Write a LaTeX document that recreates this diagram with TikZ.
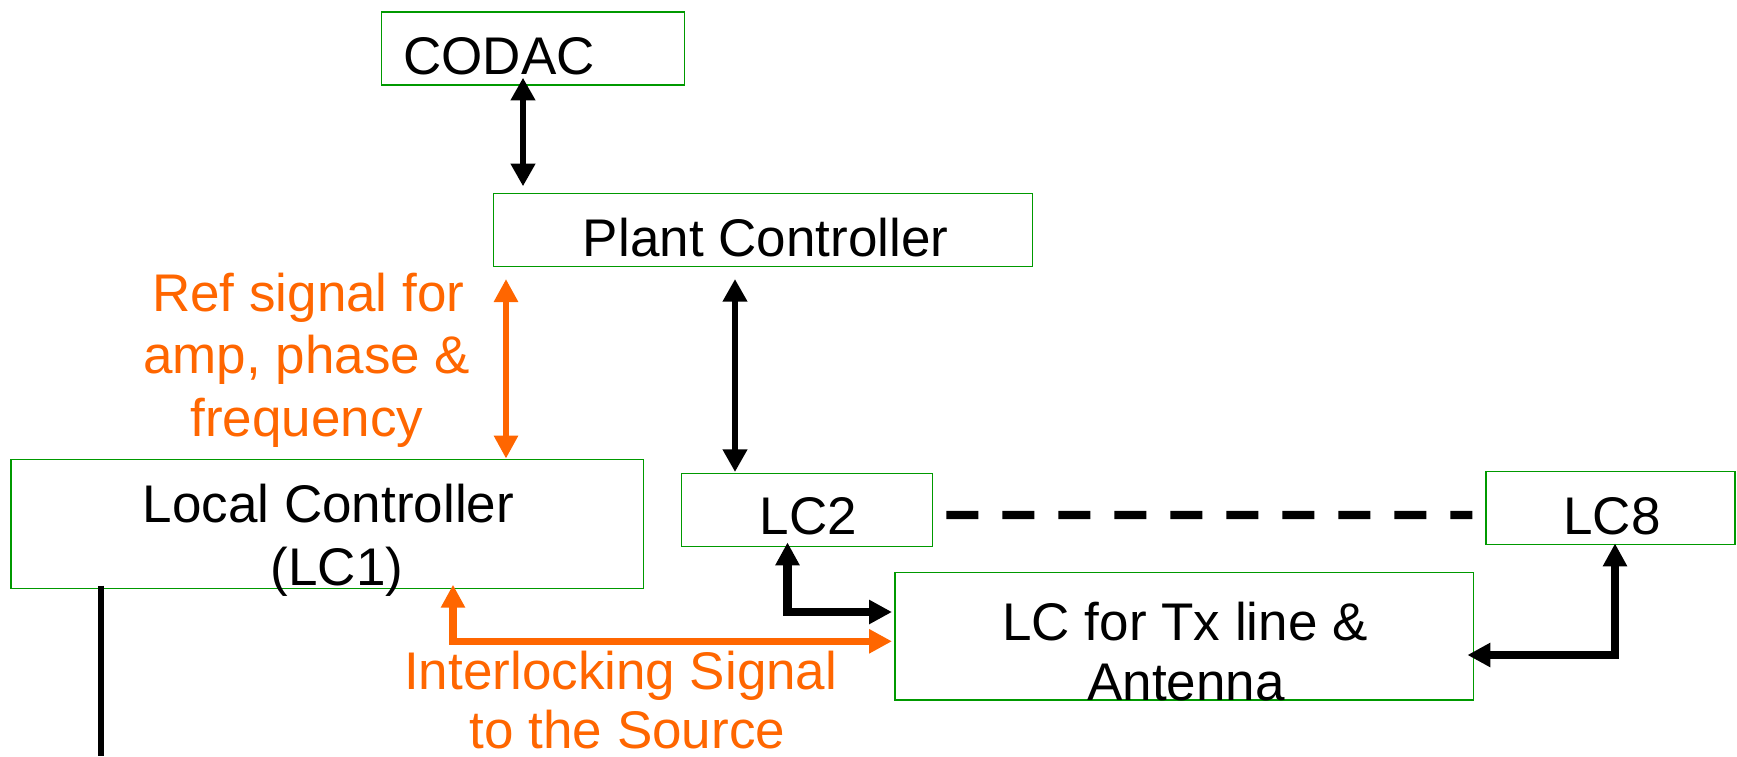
\documentclass[tikz,border=0pt]{standalone}
\usepackage{fontspec}
\setmainfont{Liberation Sans}
\usetikzlibrary{arrows.meta,calc}
\definecolor{boxgreen}{HTML}{009900}
\definecolor{sigorange}{HTML}{FF6600}
\begin{document}
\begin{tikzpicture}[x=0.5pt,y=-0.5pt,
  box/.style={draw=boxgreen,line width=0.7pt,inner sep=0pt,rectangle},
  lbl/.style={inner sep=0pt,font=\fontsize{26.5pt}{31.25pt}\selectfont,text=black},
  olbl/.style={lbl,text=sigorange},
  bidir/.style={line width=3.35pt,{Triangle[width=11.7pt,length=11.3pt]}-{Triangle[width=11.7pt,length=11.3pt]}},
  ellarrow/.style={line width=4.15pt,{Triangle[width=11.5pt,length=11.5pt]}-{Triangle[width=11.5pt,length=11.5pt]}},
  obidir/.style={draw=sigorange,line width=3.35pt,{Triangle[width=11.5pt,length=11.5pt]}-{Triangle[width=11.5pt,length=11.5pt]}},
  oell/.style={draw=sigorange,line width=3.75pt,{Triangle[width=11.5pt,length=11.5pt]}-{Triangle[width=11.5pt,length=11.5pt]}},
  dashlink/.style={line width=4.15pt,dash pattern=on 16pt off 12pt}
]
\useasboundingbox (0,0) rectangle (1737,756);

% boxes
\node[box,minimum width=151.3pt,minimum height=36.5pt] (codac) at (533,48.5) {};
\node[box,minimum width=269.6pt,minimum height=36.7pt] (plant) at (762.9,230) {};
\node[box,minimum width=316.15pt,minimum height=64.5pt] (lc1) at (327.15,523.8) {};
\node[box,minimum width=125.5pt,minimum height=36.7pt] (lc2) at (807.2,510) {};
\node[box,minimum width=124.5pt,minimum height=36.5pt] (lc8) at (1610.5,508.2) {};
\node[box,minimum width=289.15pt,minimum height=63.85pt] (lctx) at (1184.15,636.15) {};

% box texts
\node[lbl,anchor=base west] (tcodac) at ($(codac.center)+(-130,25.5)$) {CODAC};
\node[lbl,anchor=base] (tplant) at ($(plant.center)+(2.7,26)$) {Plant Controller};
\node[lbl,anchor=base] (tlc1a) at ($(lc1.center)+(1.35,-1.8)$) {Local Controller};
\node[lbl,anchor=base] (tlc1b) at ($(lc1.center)+(9.85,61.2)$) {(LC1)};
\node[lbl,anchor=base] (tlc2) at ($(lc2.center)+(1.4,24)$) {LC2};
\node[lbl,anchor=base] (tlc8) at ($(lc8.center)+(1.5,25.8)$) {LC8};
\node[lbl,anchor=base] (ttxa) at ($(lctx.center)+(0.85,3.85)$) {LC for Tx line \&};
\node[lbl,anchor=base] (ttxb) at ($(lctx.center)+(1.85,63.85)$) {Antenna};

% orange labels
\node[olbl,anchor=base] (ref1) at (308.3,311.7) {Ref signal for};
\node[olbl,anchor=base] (ref2) at (306.7,373.3) {amp, phase \&};
\node[olbl,anchor=base] (ref3) at (306.7,436.7) {frequency};
\node[olbl,anchor=base] (int1) at (620.8,689.3) {Interlocking Signal};
\node[olbl,anchor=base] (int2) at (627.5,748.3) {to the Source};

% connectors
\draw[bidir] ($(codac.south)+(-10,-8)$) -- ($(plant.north)+(-239.9,-6.3)$);
\draw[bidir] ($(plant.south)+(-27.9,11.6)$) -- ($(lc2.north)+(-72.2,-0.6)$);
\draw[obidir] ($(plant.south)+(-256.9,11.6)$) -- ($(lc1.north)+(178.85,0)$);
\draw[ellarrow] ($(lc2.south)+(-19.7,-5)$) |- ($(lctx.west)+(-2.3,-24.15)$);
\draw[ellarrow] ($(lc8.south)+(4.5,-2)$) |- ($(lctx.east)+(-6.6,18.85)$);
\draw[oell] ($(lc1.south)+(125.85,-4.3)$) |- ($(lctx.west)+(-2.3,5.15)$);
\draw[dashlink] ($(lc2.east)+(13,5)$) -- ($(lc8.west)+(-13,6.8)$);
\coordinate (lcdown) at (101,756);
\draw[line width=3pt] ($(lc1.south)+(-226.15,-3.3)$) -- (lcdown);
\end{tikzpicture}
\end{document}
